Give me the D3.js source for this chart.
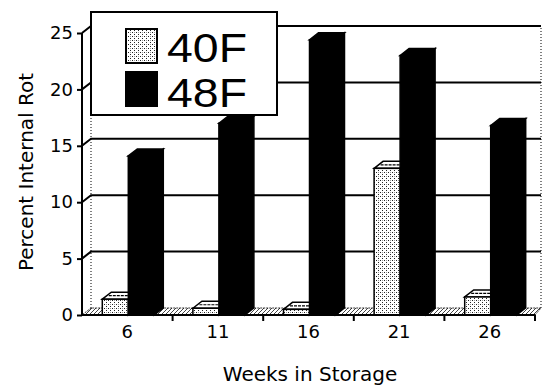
<!DOCTYPE html>
<html>
<head>
<meta charset="utf-8">
<script src="https://cdn.jsdelivr.net/npm/d3@7"></script>
<style>
  html, body { margin: 0; padding: 0; background: #fff; }
  svg { display: block; }
</style>
</head>
<body>
<script>
// Percent internal rot by weeks in storage, two storage temperatures
const weeks = ["6", "11", "16", "21", "26"];
const series = ["40F", "48F"];
const rot40F = [1.4, 0.6, 0.5, 13.0, 1.6];
const rot48F = [14.1, 17.0, 24.4, 23.0, 16.8];
const yTicks = [0, 5, 10, 15, 20, 25];

const W = 543, H = 385;
const depthX = 9, depthY = -7;   // oblique offset of the back wall

const svg = d3.select("body").append("svg")
  .attr("width", W).attr("height", H);

const defs = svg.append("defs");
// stippled fill for the 40F series
const stip = defs.append("pattern")
  .attr("id", "stipple").attr("patternUnits", "userSpaceOnUse")
  .attr("width", 4).attr("height", 4);
stip.append("rect").attr("width", 4).attr("height", 4).attr("fill", "#fff");
stip.append("rect").attr("x", 0).attr("y", 0).attr("width", 1).attr("height", 1).attr("fill", "#222");
stip.append("rect").attr("x", 2).attr("y", 2).attr("width", 1).attr("height", 1).attr("fill", "#222");
stip.append("rect").attr("x", 2).attr("y", 0).attr("width", 1).attr("height", 1).attr("fill", "#999");
// hatched floor
const hatch = defs.append("pattern")
  .attr("id", "hatch").attr("patternUnits", "userSpaceOnUse")
  .attr("width", 4).attr("height", 4);
hatch.append("rect").attr("width", 4).attr("height", 4).attr("fill", "#fff");
hatch.append("path").attr("d", "M0,4 L4,0").attr("stroke", "#444").attr("stroke-width", 1);

const x = d3.scaleBand().domain(weeks).range([82, 535]);
const y = d3.scaleLinear().domain([0, 25]).range([315, 33]);
const xs = d3.scaleBand().domain(series);

const backRight = 541;
const floorY = y(0);

// left wall, back wall edges
const walls = svg.append("g");
walls.append("line")
  .attr("x1", x.range()[0] + depthX).attr("x2", x.range()[0] + depthX)
  .attr("y1", floorY + depthY).attr("y2", y(25) + depthY)
  .attr("stroke", "#000").attr("stroke-width", 1).attr("stroke-dasharray", "1,2");
walls.append("line")
  .attr("x1", backRight).attr("x2", backRight)
  .attr("y1", floorY + depthY).attr("y2", y(25) + depthY)
  .attr("stroke", "#000").attr("stroke-width", 1).attr("stroke-dasharray", "1,2");

// floor
walls.append("path")
  .attr("d", d3.line()([
    [x.range()[0], floorY], [x.range()[1], floorY],
    [backRight, floorY + depthY], [x.range()[0] + depthX, floorY + depthY]
  ]) + "Z")
  .attr("fill", "url(#hatch)").attr("stroke", "#000").attr("stroke-width", 0.8)
  .attr("stroke-dasharray", "2,1");

// gridlines: slant across the left wall, then along the back wall
const grid = svg.append("g");
yTicks.filter(t => t > 0).forEach(t => {
  grid.append("path")
    .attr("d", d3.line()([
      [x.range()[0], y(t)], [x.range()[0] + depthX, y(t) + depthY], [backRight, y(t) + depthY]
    ]))
    .attr("fill", "none").attr("stroke", "#000").attr("stroke-width", 2);
});

// bars
const bars = svg.append("g");
weeks.forEach((wk, i) => {
  const c = x(wk) + x.bandwidth() / 2;
  xs.range([c - 25, c + 27]);
  const bw = xs.bandwidth();
  [[rot40F[i], "40F"], [rot48F[i], "48F"]].forEach(([v, s]) => {
    const x0 = xs(s), x1 = x0 + bw, yt = y(v), yb = floorY;
    const dark = s === "48F";
    const frontFill = dark ? "#000" : "url(#stipple)";
    const g = bars.append("g");
    // side face
    g.append("path")
      .attr("d", d3.line()([[x1, yt], [x1 + depthX, yt + depthY], [x1 + depthX, yb + depthY], [x1, yb]]) + "Z")
      .attr("fill", dark ? "#000" : "#fff").attr("stroke", "#000").attr("stroke-width", 1.5);
    // top face
    g.append("path")
      .attr("d", d3.line()([[x0, yt], [x0 + depthX, yt + depthY], [x1 + depthX, yt + depthY], [x1, yt]]) + "Z")
      .attr("fill", dark ? "#000" : "#fff").attr("stroke", "#000").attr("stroke-width", 1.5);
    if (!dark) {
      g.append("line")
        .attr("x1", x0 + depthX / 2 + 2).attr("x2", x1 + depthX / 2)
        .attr("y1", yt + depthY / 2).attr("y2", yt + depthY / 2)
        .attr("stroke", "#000").attr("stroke-width", 1.2).attr("stroke-dasharray", "3,1");
    }
    // front face
    g.append("rect")
      .attr("x", x0).attr("y", yt).attr("width", bw).attr("height", yb - yt)
      .attr("fill", frontFill).attr("stroke", "#000").attr("stroke-width", 1.5);
  });
});

// y axis
const yAxis = svg.append("g").attr("transform", `translate(${x.range()[0]},0)`)
  .call(d3.axisLeft(y).tickValues(yTicks).tickSize(5).tickPadding(4).tickSizeOuter(0));
yAxis.select(".domain").attr("stroke", "#000").attr("stroke-width", 2)
  .attr("d", `M0,${floorY}V${y(25)}`);
yAxis.selectAll(".tick line").attr("stroke", "#000").attr("stroke-width", 2);
yAxis.selectAll(".tick text")
  .attr("font-family", "'DejaVu Sans', sans-serif").attr("font-size", 18)
  .attr("fill", "#000");

// x axis
const xAxis = svg.append("g").attr("transform", `translate(0,${floorY})`)
  .call(d3.axisBottom(x).tickSize(0).tickPadding(10));
xAxis.select(".domain").attr("stroke", "#000").attr("stroke-width", 2)
  .attr("d", `M${x.range()[0]},0H${x.range()[1]}`);
xAxis.selectAll(".tick text")
  .attr("font-family", "'DejaVu Sans', sans-serif").attr("font-size", 18)
  .attr("fill", "#000");
// category separators below the axis
xAxis.selectAll(".sep").data(weeks.slice(1).concat(["end"]))
  .enter().append("line")
  .attr("x1", d => d === "end" ? x.range()[1] : x(d))
  .attr("x2", d => d === "end" ? x.range()[1] : x(d))
  .attr("y1", 0).attr("y2", 6)
  .attr("stroke", "#000").attr("stroke-width", 2);

// axis titles
svg.append("text")
  .attr("transform", "translate(33,172) rotate(-90)")
  .attr("text-anchor", "middle")
  .attr("font-family", "'DejaVu Sans', sans-serif").attr("font-size", 20)
  .text("Percent Internal Rot");
svg.append("text")
  .attr("x", 310).attr("y", 381)
  .attr("text-anchor", "middle")
  .attr("font-family", "'DejaVu Sans', sans-serif").attr("font-size", 20)
  .text("Weeks in Storage");

// legend
const legend = svg.append("g");
legend.append("rect")
  .attr("x", 91).attr("y", 12).attr("width", 186).attr("height", 103)
  .attr("fill", "#fff").attr("stroke", "#000").attr("stroke-width", 2);
const legRows = [["40F", "url(#stipple)", 29, 62], ["48F", "#000", 72, 107]];
legRows.forEach(([label, fill, top, base]) => {
  legend.append("rect")
    .attr("x", 126).attr("y", top).attr("width", 31).attr("height", 34)
    .attr("fill", fill).attr("stroke", "#000").attr("stroke-width", 2);
  legend.append("text")
    .attr("x", 167).attr("y", base)
    .attr("font-family", "'Liberation Sans', Arial, sans-serif").attr("font-size", 40)
    .attr("textLength", 80).attr("lengthAdjust", "spacingAndGlyphs")
    .attr("fill", "#000")
    .text(label);
});
</script>
</body>
</html>
